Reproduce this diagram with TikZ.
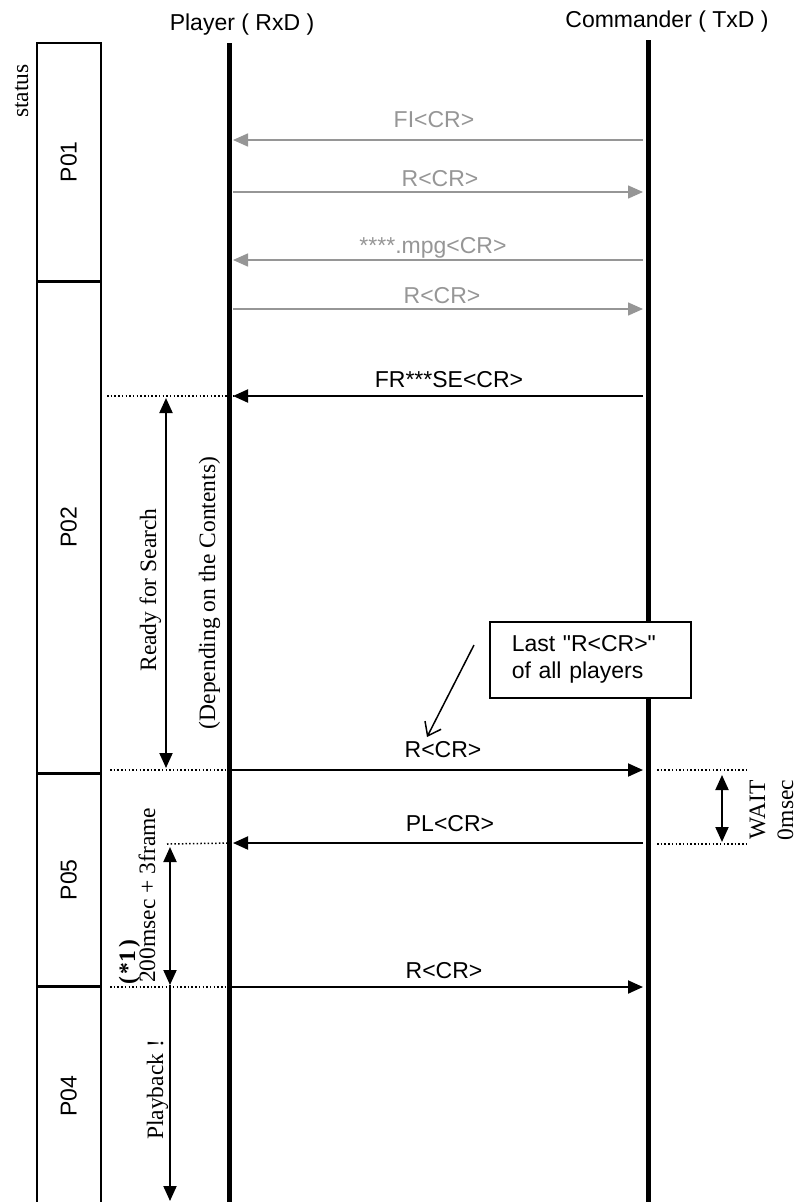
\documentclass[tikz,border=0pt]{standalone}
\usepackage{fontspec}
\setmainfont{Liberation Serif}
\setsansfont{Liberation Sans}
\usetikzlibrary{positioning,arrows.meta,calc}

\definecolor{msggray}{RGB}{150,150,150}
\newcommand{\arialtext}{\sffamily\fontsize{23}{27}\selectfont}
\newcommand{\timestext}{\rmfamily\fontsize{23.5}{27}\selectfont}

\begin{document}
\begin{tikzpicture}[
	x=1pt, y=-1pt,
	font=\arialtext,
	lifeline/.style = {line width=5pt},
	cell/.style = {rectangle, draw, line width=1.5pt,
		minimum width=64pt, inner sep=0pt},
	msg/.style = {line width=2pt, -{Triangle[length=15pt,width=13pt]}},
	oldmsg/.style = {msg, draw=msggray, line width=1.5pt},
	lbl/.style = {anchor=base, inner sep=0pt},
	guide/.style = {line width=1.5pt, dash pattern=on 1.5pt off 2.2pt},
	span/.style = {line width=2pt,
		{Triangle[length=15pt,width=13pt]}-{Triangle[length=15pt,width=13pt]}},
	vtext/.style = {rotate=90, font=\timestext, inner sep=0pt},
	note/.style = {rectangle, draw, fill=white, line width=1.5pt,
		text width=157pt, inner xsep=22pt, minimum height=76pt, align=left},
	]
	\useasboundingbox (0,0) rectangle (798,1202);
	
	% status column
	\node[cell, minimum height=238pt, anchor=north west] (P01) at (36,42) {\rotatebox{90}{P01}};
	\node[cell, minimum height=490pt, below=0pt of P01] (P02) {\rotatebox{90}{P02}};
	\node[cell, minimum height=212pt, below=0pt of P02] (P05) {\rotatebox{90}{P05}};
	\node[cell, minimum height=218pt, below=0pt of P05] (P04) {\rotatebox{90}{P04}};
	\node[vtext, anchor=base] (status) at (28,91) {status};
	
	% titles and lifelines
	\node[anchor=base] (player) at (242,30) {Player ( RxD )};
	\node[anchor=base] (commander) at (667,27) {Commander ( TxD )};
	\coordinate (ptop) at (229,43);
	\coordinate (pbot) at (229,1202);
	\coordinate (ctop) at (648,40);
	\coordinate (cbot) at (648,1202);
	
	\foreach \n/\yy in {fi/140, ra/192, mpg/260, rb/309, fr/396, rc/770, pl/843, rd/987}{
		\coordinate (\n P) at (233,\yy);
		\coordinate (\n C) at (643,\yy);
	}
	
	% dotted guides
	\coordinate (gfr) at (107,396);
	\coordinate (grc) at (110,770);
	\coordinate (gpl) at (167,844);
	\coordinate (grd) at (110,987);
	\coordinate (wa1) at (657,770);
	\coordinate (wa2) at (748,770);
	\coordinate (wb1) at (657,844);
	\coordinate (wb2) at (748,844);
	\draw[guide] (gfr) -- (frP);
	\draw[guide] (grc) -- (rcP);
	\draw[guide] (gpl) -- (plP);
	\draw[guide] (grd) -- (rdP);
	\draw[guide] (wa1) -- (wa2);
	\draw[guide] (wb1) -- (wb2);
	
	\draw[lifeline] (ptop) -- (pbot);
	\draw[lifeline] (ctop) -- (cbot);
	
	% messages
	\draw[oldmsg] (fiC) -- (fiP) node[lbl, midway, yshift=13pt, xshift=-4pt, text=msggray] (fiL) {FI<CR>};
	\draw[oldmsg] (raP) -- (raC) node[lbl, midway, yshift=6pt, xshift=2pt, text=msggray] (raL) {R<CR>};
	\draw[oldmsg] (mpgC) -- (mpgP) node[lbl, midway, yshift=7pt, xshift=-5pt, text=msggray] (mpgL) {****.mpg<CR>};
	\draw[oldmsg] (rbP) -- (rbC) node[lbl, midway, yshift=6pt, xshift=4pt, text=msggray] (rbL) {R<CR>};
	\draw[msg] (frC) -- (frP) node[lbl, midway, yshift=9pt, xshift=11pt] (frL) {FR***SE<CR>};
	\draw[msg] (rcP) -- (rcC) node[lbl, midway, yshift=13pt, xshift=5pt] (rcL) {R<CR>};
	\draw[msg] (plC) -- (plP) node[lbl, midway, yshift=12pt, xshift=12pt] (plL) {PL<CR>};
	\draw[msg] (rdP) -- (rdC) node[lbl, midway, yshift=9pt, xshift=6pt] (rdL) {R<CR>};
	
	% time spans
	\coordinate (s1) at (166,398);
	\coordinate (s2) at (166,768);
	\coordinate (s3) at (170,847);
	\coordinate (s4) at (170,985);
	\coordinate (s5) at (170,1201);
	\coordinate (w1) at (722,775);
	\coordinate (w2) at (722,842);
	\draw[span] (s1) -- (s2);
	\draw[span] (s3) -- (s4);
	\draw[line width=2pt, -{Triangle[length=15pt,width=13pt]}] (s4) -- (s5);
	\draw[span] (w1) -- (w2);
	
	\node[vtext, anchor=base] (ready) at (156,590) {Ready for Search};
	\node[vtext, anchor=base] (depend) at (215,593) {(Depending on the Contents)};
	\node[vtext, anchor=base west] (frame) at (155,983) {200msec + 3frame};
	\node[vtext, anchor=base west, font=\timestext\bfseries] (ref) at (135,985) {(\hspace{3pt}*1\hspace{3pt})};
	\node[vtext, anchor=base] (play) at (163,1090) {Playback !};
	\node[vtext, anchor=base] (wait) at (765,810) {WAIT};
	\node[vtext, anchor=base] (zero) at (793,810) {0msec};
	
	% note
	\node[note, anchor=north west] (last) at (489,621) {Last \textquotedbl R<CR>\textquotedbl\\of all players};
	\coordinate (ptrA) at (474,645);
	\coordinate (ptrB) at (427,737);
	\draw[line width=1.5pt, -{Straight Barb[length=12pt,width=18pt]}] (ptrA) -- (ptrB);
\end{tikzpicture}
\end{document}
